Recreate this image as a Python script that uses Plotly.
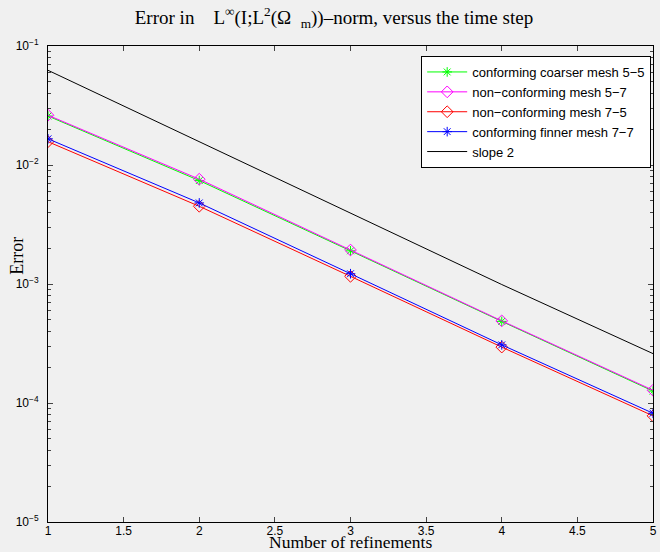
import plotly.graph_objects as go

refinements = [1, 2, 3, 4, 5]
coarse_55 = [0.0258, 0.0074, 0.0019, 0.000485, 0.000126]
nonconf_57 = [0.0262, 0.0076, 0.00193, 0.00049, 0.000128]
nonconf_75 = [0.0157, 0.0045, 0.00116, 0.000295, 0.000078]
fine_77 = [0.0166, 0.0048, 0.00122, 0.000308, 0.000082]
slope2 = [0.0625, 0.0157, 0.0039, 0.00099, 0.00026]

names = ["conforming coarser mesh 5\u22125", "non\u2212conforming mesh 5\u22127",
         "non\u2212conforming mesh 7\u22125", "conforming finner mesh 7\u22127", "slope 2"]

xticks = [1, 1.5, 2, 2.5, 3, 3.5, 4, 4.5, 5]
xticklabels = ["1", "1.5", "2", "2.5", "3", "3.5", "4", "4.5", "5"]
yticks = [1e-5, 1e-4, 1e-3, 1e-2, 1e-1]
yticklabels = ["10<sup>\u22125</sup>", "10<sup>\u22124</sup>", "10<sup>\u22123</sup>",
               "10<sup>\u22122</sup>", "10<sup>\u22121</sup>"]

fig = go.Figure()
fig.add_trace(go.Scatter(x=refinements, y=coarse_55, name=names[0], mode="lines+markers",
                         line=dict(color="#00ff00", width=1),
                         marker=dict(symbol="asterisk-open", size=8, color="#00ff00", line=dict(width=1, color="#00ff00"))))
fig.add_trace(go.Scatter(x=refinements, y=nonconf_57, name=names[1], mode="lines+markers",
                         line=dict(color="#ff00ff", width=1),
                         marker=dict(symbol="diamond-open", size=9, color="#ff00ff", line=dict(width=1, color="#ff00ff"))))
fig.add_trace(go.Scatter(x=refinements, y=nonconf_75, name=names[2], mode="lines+markers",
                         line=dict(color="#ff0000", width=1),
                         marker=dict(symbol="diamond-open", size=9, color="#ff0000", line=dict(width=1, color="#ff0000"))))
fig.add_trace(go.Scatter(x=refinements, y=fine_77, name=names[3], mode="lines+markers",
                         line=dict(color="#0000ff", width=1),
                         marker=dict(symbol="asterisk-open", size=8, color="#0000ff", line=dict(width=1, color="#0000ff"))))
fig.add_trace(go.Scatter(x=refinements, y=slope2, name=names[4], mode="lines",
                         line=dict(color="#000000", width=1)))

serif = "Liberation Serif, Times New Roman, serif"
sans = "Liberation Sans, Arial, sans-serif"

fig.update_layout(
    width=660, height=552,
    margin=dict(l=48, r=3, t=46, b=30),
    paper_bgcolor="#f0f0f0", plot_bgcolor="#f0f0f0",
    title=dict(text="Error in&nbsp;&nbsp;&nbsp; L<sup>\u221e</sup>(I;L<sup>2</sup>(\u03a9&nbsp;&nbsp;<sub>m</sub>))\u2013norm, versus the time step",
               x=0.506, xref="container", xanchor="center", y=1 - 17 / 552, yanchor="middle",
               font=dict(family=serif, size=19, color="black")),
    font=dict(family=sans, size=12, color="black"),
    showlegend=True,
    legend=dict(x=0.997, y=0.979, xanchor="right", yanchor="top", bgcolor="white",
                bordercolor="black", borderwidth=1, font=dict(family=sans, size=13),
                itemwidth=40, tracegroupgap=0),
    xaxis=dict(range=[1, 5], tickvals=xticks, ticktext=xticklabels, ticks="inside", ticklen=5,
               showline=True, linecolor="black", linewidth=1, mirror="ticks", showgrid=False,
               zeroline=False, tickfont=dict(family=sans, size=12), ticklabeloverflow="allow",
               ticklabelstandoff=-2),
    yaxis=dict(type="log", range=[-5, -1], tickvals=yticks, ticktext=yticklabels, ticks="inside", ticklen=5,
               showline=True, linecolor="black", linewidth=1, mirror="ticks", showgrid=False,
               zeroline=False, tickfont=dict(family=sans, size=12), ticklabelstandoff=6,
               minor=dict(ticks="inside", ticklen=3, dtick="D1", showgrid=False)),
    annotations=[
        dict(text="Number of refinements", x=0.5, y=-0.043, xref="paper", yref="paper",
             xanchor="center", yanchor="middle", showarrow=False,
             font=dict(family=serif, size=17.5, color="black")),
        dict(text="Error", x=-31 / 609, y=0.56, xref="paper", yref="paper", textangle=-90,
             xanchor="center", yanchor="middle", showarrow=False,
             font=dict(family=serif, size=18, color="black")),
    ],
)

fig.write_html("out.html", config={"displayModeBar": False},
               post_script="document.body.style.margin='0';document.body.style.background='#f0f0f0';")
